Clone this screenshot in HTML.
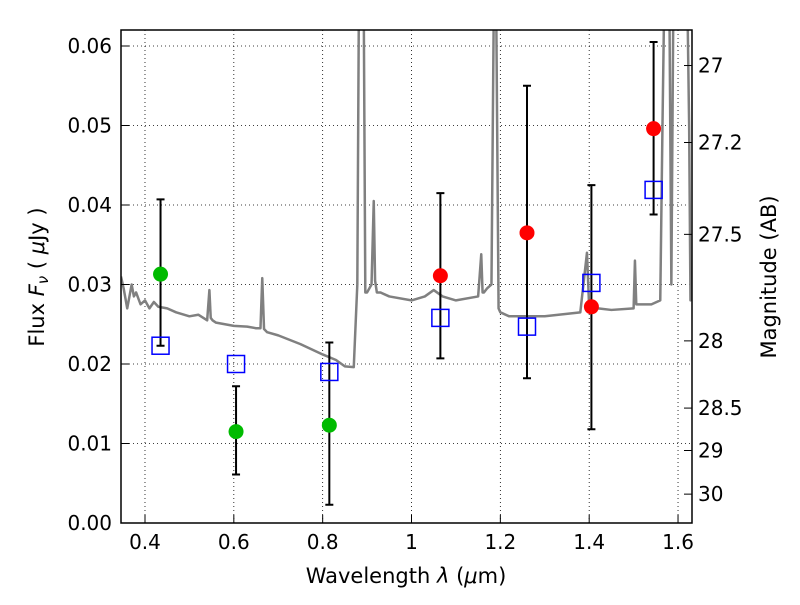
<!DOCTYPE html>
<html><head><meta charset="utf-8"><style>
body{margin:0;background:#fff}
svg text{font-family:"DejaVu Sans","Liberation Sans",sans-serif;fill:#000}
</style></head><body>
<svg id="c" width="800" height="600" xmlns="http://www.w3.org/2000/svg">
<g id="grid"></g>
<defs><clipPath id="clip"><rect x="121" y="30" width="571" height="493"/></clipPath></defs>
<g id="spec" clip-path="url(#clip)"></g>
<g id="marks"></g>
<rect x="121" y="30" width="571" height="493" fill="none" stroke="#000" stroke-width="1.5"/>
<g id="axes"></g>
<text x="406" y="583" font-size="21" text-anchor="middle">Wavelength  <tspan font-style="italic">λ</tspan> (<tspan font-style="italic">μ</tspan>m)</text>
<text transform="translate(44,277) rotate(-90)" font-size="21" text-anchor="middle">Flux  <tspan font-style="italic">F</tspan><tspan font-style="italic" font-size="15" dy="4">ν</tspan><tspan dy="-4">  ( </tspan><tspan font-style="italic">μ</tspan>Jy )</text>
<text transform="translate(776,277) rotate(-90)" font-size="21" text-anchor="middle">Magnitude (AB)</text>
</svg>
<script>
const xTicks=[0.4,0.6,0.8,1.0,1.2,1.4,1.6];
const xTickLabels=["0.4","0.6","0.8","1","1.2","1.4","1.6"];
const yTicks=[0,0.01,0.02,0.03,0.04,0.05,0.06];
const yTickLabels=["0.00","0.01","0.02","0.03","0.04","0.05","0.06"];
const magTicks=[27,27.2,27.5,28,28.5,29,30];
const magTickLabels=["27","27.2","27.5","28","28.5","29","30"];
const bandWl=[0.435,0.605,0.815,1.065,1.26,1.405,1.545];
const obsFlux=[0.0313,0.0115,0.0123,0.0311,0.0365,0.0272,0.0496];
const errHi=[0.0407,0.0172,0.0227,0.0415,0.055,0.0425,0.0605];
const errLo=[0.0223,0.0061,0.0023,0.0207,0.0182,0.0118,0.0388];
const obsColor=["#00bb00","#00bb00","#00bb00","red","red","red","red"];
const modelFlux=[0.0223,0.0200,0.0190,0.0258,0.0247,0.0302,0.0419];
const specWl=[0.346,0.352,0.36,0.365,0.37,0.375,0.38,0.39,0.4,0.41,0.42,0.43,0.45,0.47,0.5,0.52,0.54,0.545,0.548,0.552,0.56,0.6,0.63,0.65,0.66,0.664,0.668,0.675,0.7,0.75,0.8,0.83,0.85,0.87,0.878,0.882,0.886,0.892,0.896,0.9,0.91,0.915,0.918,0.922,0.93,0.95,1.0,1.03,1.05,1.07,1.1,1.15,1.157,1.16,1.163,1.17,1.18,1.186,1.19,1.196,1.2,1.22,1.3,1.38,1.395,1.4,1.405,1.42,1.45,1.5,1.503,1.506,1.51,1.54,1.56,1.565,1.57,1.58,1.585,1.59,1.6,1.62,1.625,1.628,1.632];
const specFlux=[0.031,0.0295,0.027,0.0285,0.03,0.0285,0.029,0.0275,0.028,0.027,0.0278,0.0272,0.027,0.0265,0.026,0.0262,0.0255,0.0293,0.0258,0.0255,0.0252,0.0248,0.0247,0.0245,0.0245,0.0308,0.0244,0.024,0.0236,0.0225,0.0212,0.0205,0.0197,0.0196,0.03,0.07,0.07,0.07,0.029,0.029,0.03,0.0405,0.0305,0.029,0.029,0.0285,0.028,0.0285,0.0293,0.0285,0.028,0.0285,0.0338,0.029,0.029,0.0295,0.03,0.07,0.07,0.027,0.0265,0.026,0.026,0.0265,0.034,0.027,0.027,0.027,0.0268,0.027,0.033,0.0275,0.0275,0.0275,0.028,0.05,0.07,0.07,0.03,0.07,0.07,0.07,0.05,0.028,0.03];
const X=v=>121+(v-0.346)*444.2, Y=v=>523-v*7950;
const NS="http://www.w3.org/2000/svg";
function mk(p,t,a){const e=document.createElementNS(NS,t);for(const k in a)e.setAttribute(k,a[k]);document.getElementById(p).appendChild(e);return e;}
xTicks.forEach((v,i)=>{
 let g=mk('grid','line',{x1:X(v),x2:X(v),y1:30,y2:523,stroke:'#000','stroke-dasharray':'1,3','stroke-width':0.8});
 
 let t=mk('axes','line',{x1:X(v),x2:X(v),y1:523,y2:515,stroke:'#000'});
 
 let l=mk('axes','text',{x:X(v),y:549,'font-size':20,'text-anchor':'middle'});l.textContent=xTickLabels[i];
 
});
yTicks.forEach((v,i)=>{
 let g=mk('grid','line',{x1:121,x2:692,y1:Y(v),y2:Y(v),stroke:'#000','stroke-dasharray':'1,3','stroke-width':0.8});
 
 let t=mk('axes','line',{x1:121,x2:129,y1:Y(v),y2:Y(v),stroke:'#000'});
 
 let l=mk('axes','text',{x:112,y:Y(v)+7,'font-size':20,'text-anchor':'end'});l.textContent=yTickLabels[i];
 
});
magTicks.forEach((m,i)=>{
 const y=Y(Math.pow(10,(23.9-m)/2.5));
 let t=mk('axes','line',{x1:684,x2:692,y1:y,y2:y,stroke:'#000'});
 
 let l=mk('axes','text',{x:698,y:y+7,'font-size':20});l.textContent=magTickLabels[i];
 
});
let p=mk('spec','polyline',{points:specWl.map((w,i)=>X(w)+','+Y(specFlux[i])).join(' '),fill:'none',stroke:'#808080','stroke-width':2.5,'stroke-linejoin':'round'});

bandWl.forEach((w,i)=>{
 const x=X(w);
 let e=mk('marks','path',{d:`M${x},${Y(errHi[i])}V${Y(errLo[i])}M${x-4},${Y(errHi[i])}h8M${x-4},${Y(errLo[i])}h8`,stroke:'#000','stroke-width':2,fill:'none'});
 
});
bandWl.forEach((w,i)=>{
 let s=mk('marks','rect',{x:X(w)-8.5,y:Y(modelFlux[i])-8.5,width:17,height:17,fill:'none',stroke:'#0000ff','stroke-width':1.5});
 
 let c=mk('marks','circle',{cx:X(w),cy:Y(obsFlux[i]),r:7.5,fill:obsColor[i]});
 
});
</script>
</body></html>
